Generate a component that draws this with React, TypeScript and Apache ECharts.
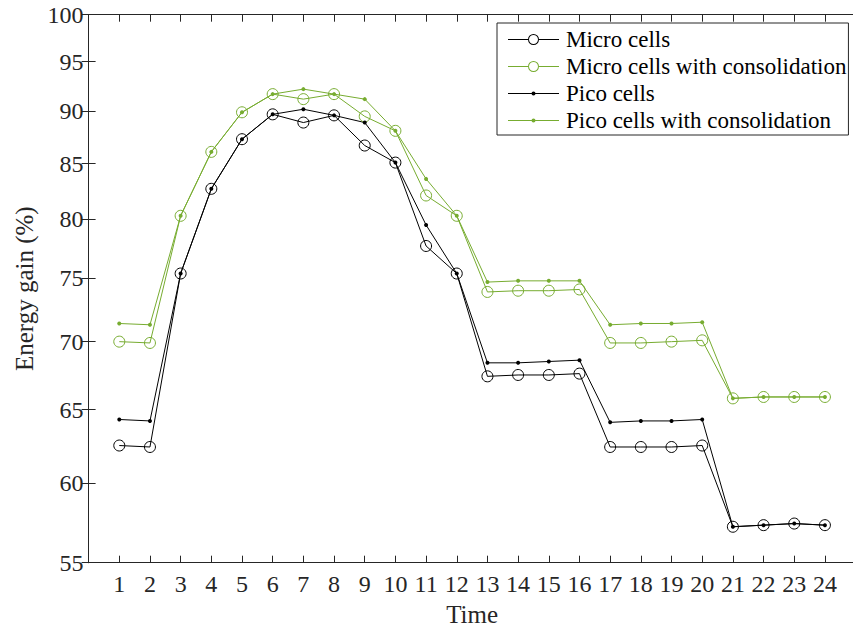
import React, { useEffect, useRef } from "react";
import * as echarts from "echarts";

const times = [1, 2, 3, 4, 5, 6, 7, 8, 9, 10, 11, 12, 13, 14, 15, 16, 17, 18, 19, 20, 21, 22, 23, 24];
const yTicks = [55, 60, 65, 70, 75, 80, 85, 90, 95, 100];

const microCells = [62.5, 62.4, 75.4, 82.7, 87.3, 89.7, 88.9, 89.6, 86.7, 85.1, 77.7, 75.4, 67.4, 67.5, 67.5, 67.6, 62.4, 62.4, 62.4, 62.5, 57.2, 57.3, 57.4, 57.3];
const microCons = [70.0, 69.9, 80.3, 86.1, 89.9, 91.7, 91.2, 91.7, 89.5, 88.1, 82.1, 80.3, 73.9, 74.0, 74.0, 74.1, 69.9, 69.9, 70.0, 70.1, 65.8, 65.9, 65.9, 65.9];
const picoCells = [64.3, 64.2, 75.4, 82.7, 87.3, 89.7, 90.2, 89.6, 88.9, 85.1, 79.5, 75.4, 68.4, 68.4, 68.5, 68.6, 64.1, 64.2, 64.2, 64.3, 57.2, 57.3, 57.4, 57.3];
const picoCons = [71.4, 71.3, 80.3, 86.1, 89.9, 91.7, 92.2, 91.7, 91.2, 88.1, 83.6, 80.3, 74.7, 74.8, 74.8, 74.8, 71.3, 71.4, 71.4, 71.5, 65.8, 65.9, 65.9, 65.9];

const names = ["Micro cells", "Micro cells with consolidation", "Pico cells", "Pico cells with consolidation"];

const BLACK = "#000000";
const GREEN = "#77AC30";
const AXIS = "#262626";
const FONT = "'Liberation Serif', 'Times New Roman', serif";

const bbox = "M0 0 Z M53 12 Z ";
const ringIcon =
  "path://" + bbox +
  "M0 5.5 H20 V6.5 H0 Z M31 5.5 H51 V6.5 H31 Z " +
  "M20 6 A5.5 5.5 0 1 1 31 6 A5.5 5.5 0 1 1 20 6 Z M21 6 A4.5 4.5 0 1 0 30 6 A4.5 4.5 0 1 0 21 6 Z";
const dotIcon =
  "path://" + bbox +
  "M0 5.5 H51 V6.5 H0 Z " +
  "M23.5 6 A2 2 0 1 1 27.5 6 A2 2 0 1 1 23.5 6 Z";

function toPairs(vals: number[]) {
  return times.map((t, i) => [t, vals[i]]);
}

export default function App() {
  const ref = useRef<HTMLDivElement>(null);
  useEffect(() => {
    if (!ref.current) return;
    const chart = echarts.init(ref.current, undefined, { renderer: "svg" });
    const xCommon = {
      type: "value" as const,
      min: 0,
      max: 25,
      interval: 1,
      splitLine: { show: false },
      axisLine: { show: true, lineStyle: { color: AXIS, width: 1 } },
      axisTick: { show: true, inside: true, length: 7, lineStyle: { color: AXIS }, customValues: times },
    };
    const yCommon = {
      type: "log" as const,
      logBase: 10,
      min: 55,
      max: 100,
      splitLine: { show: false },
      axisLine: { show: true, lineStyle: { color: AXIS, width: 1 } },
      axisTick: { show: true, inside: true, length: 7, lineStyle: { color: AXIS }, customValues: yTicks },
    };
    const mkSeries = (name: string, vals: number[], color: string, open: boolean) => ({
      name,
      type: "line",
      data: toPairs(vals),
      symbol: "circle",
      symbolSize: open ? 11 : 4,
      showSymbol: true,
      lineStyle: { color, width: 1 },
      itemStyle: open
        ? { color: "rgba(0,0,0,0)", borderColor: color, borderWidth: 1 }
        : { color, borderWidth: 0 },
      emphasis: { disabled: true },
      silent: true,
    });
    chart.setOption({
      animation: false,
      backgroundColor: "#ffffff",
      grid: {
        left: 88.6,
        top: 14.7,
        width: 767,
        height: 548,
        containLabel: false,
        outerBoundsMode: "none",
      },
      xAxis: [
        {
          ...xCommon,
          position: "bottom",
          name: "Time",
          nameLocation: "middle",
          nameGap: 39,
          nameTextStyle: { fontFamily: FONT, fontSize: 25, color: AXIS },
          axisLabel: { show: true, customValues: times, margin: 9, fontFamily: FONT, fontSize: 24, color: AXIS },
        },
        { ...xCommon, position: "top", axisLabel: { show: false } },
      ],
      yAxis: [
        {
          ...yCommon,
          position: "left",
          name: "Energy gain (%)",
          nameLocation: "middle",
          nameGap: 50,
          nameTextStyle: { fontFamily: FONT, fontSize: 25, color: AXIS },
          axisLabel: { show: true, customValues: yTicks, margin: 5, fontFamily: FONT, fontSize: 24, color: AXIS },
        },
        { ...yCommon, position: "right", axisLabel: { show: false } },
      ],
      legend: {
        show: true,
        orient: "vertical",
        left: 497,
        top: 23,
        itemWidth: 53,
        itemHeight: 12,
        itemGap: 4,
        padding: [5, 2, 3, 11],
        borderColor: AXIS,
        borderWidth: 1,
        backgroundColor: "#ffffff",
        selectedMode: false,
        textStyle: { fontFamily: FONT, fontSize: 23, color: "#000" },
        data: [
          { name: names[0], icon: ringIcon, itemStyle: { color: BLACK, borderWidth: 0 } },
          { name: names[1], icon: ringIcon, itemStyle: { color: GREEN, borderWidth: 0 } },
          { name: names[2], icon: dotIcon, itemStyle: { color: BLACK, borderWidth: 0 } },
          { name: names[3], icon: dotIcon, itemStyle: { color: GREEN, borderWidth: 0 } },
        ],
      },
      series: [
        mkSeries(names[0], microCells, BLACK, true),
        mkSeries(names[1], microCons, GREEN, true),
        mkSeries(names[2], picoCells, BLACK, false),
        mkSeries(names[3], picoCons, GREEN, false),
      ],
    });
    return () => chart.dispose();
  }, []);
  return (
    <div
      ref={ref}
      style={{ position: "fixed", left: 0, top: 0, width: 853, height: 629, background: "#fff" }}
    />
  );
}
